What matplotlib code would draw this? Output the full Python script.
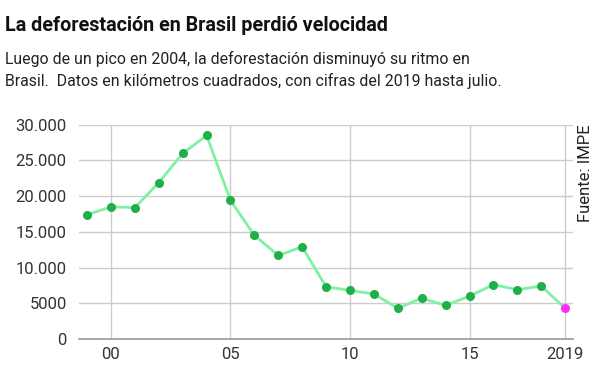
import matplotlib
matplotlib.use("Agg")
import matplotlib.pyplot as plt

years = list(range(1999, 2020))
area_km2 = [17400, 18500, 18400, 21900, 26000, 28500, 19400, 14500, 11700, 12900,
            7300, 6800, 6300, 4300, 5700, 4700, 6000, 7600, 6900, 7400, 4300]

y_ticks = [0, 5000, 10000, 15000, 20000, 25000, 30000]
y_labels = ["0", "5000", "10.000", "15.000", "20.000", "25.000", "30.000"]
x_ticks = [2000, 2005, 2010, 2015, 2019]
x_labels = ["00", "05", "10", "15", "2019"]

plt.rcParams["font.family"] = ["Roboto", "DejaVu Sans"]

fig = plt.figure(figsize=(6, 3.77), dpi=100)
ax = fig.add_axes([0.132, 0.101, 0.823, 0.568])

ax.plot(years, area_km2, color="#7ff0a4", lw=2, zorder=3)
ax.plot(years[:-1], area_km2[:-1], "o", color="#1fae48", ms=6.5, mec="none", zorder=4)
ax.plot(years[-1:], area_km2[-1:], "o", color="#ff2cf5", ms=6.5, mec="none", zorder=4)

ax.set_xlim(1998.67, 2019.33)
ax.set_ylim(0, 30000)
ax.set_yticks(y_ticks)
ax.set_yticklabels(y_labels)
ax.set_xticks(x_ticks)
ax.set_xticklabels(x_labels)
ax.grid(color="#cccccc", lw=1)
ax.set_axisbelow(True)
for s in ["left", "right", "top"]:
    ax.spines[s].set_visible(False)
ax.spines["bottom"].set_color("#999999")
ax.spines["bottom"].set_linewidth(1.2)
ax.tick_params(length=0, labelsize=12, colors="#333333", pad=9)
ax.tick_params(axis="x", pad=6)

fig.text(0.008, 0.932, "La deforestación en Brasil perdió velocidad",
         fontsize=14.2, fontweight="bold", color="#111111", va="center")
fig.text(0.008, 0.843, "Luego de un pico en 2004, la deforestación disminuyó su ritmo en",
         fontsize=11.4, color="#222222", va="center")
fig.text(0.008, 0.785, "Brasil.  Datos en kilómetros cuadrados, con cifras del 2019 hasta julio.",
         fontsize=11.4, color="#222222", va="center")
fig.text(0.975, 0.669, "Fuente: IMPE", rotation=90, fontsize=12, color="#222222",
         ha="center", va="top")

fig.savefig("out.png", dpi=100)
